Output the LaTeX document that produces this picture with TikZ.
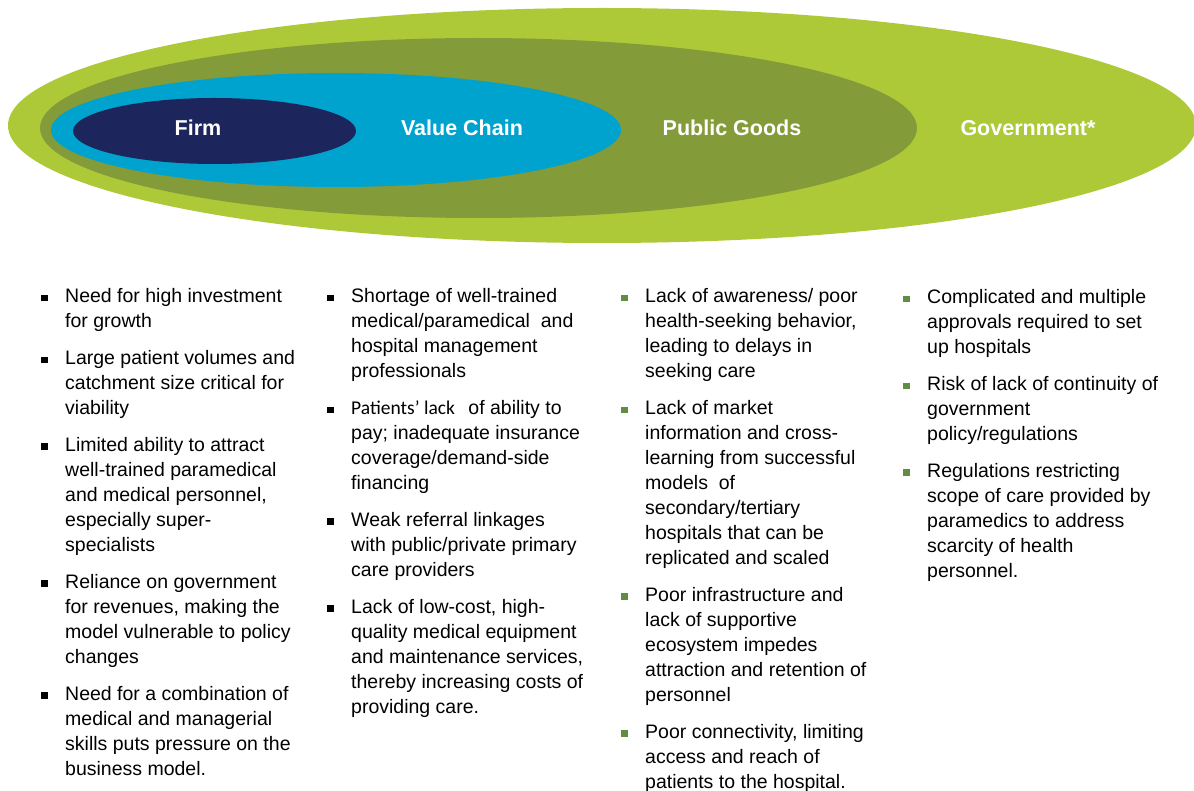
\documentclass[tikz,border=0pt]{standalone}
\usepackage{fontspec}
\setmainfont{Liberation Sans}
\newfontfamily\carlito{Carlito}
\usetikzlibrary{positioning}

\definecolor{govlime}{RGB}{174,201,56}
\definecolor{pubolive}{RGB}{132,155,58}
\definecolor{chaincyan}{RGB}{0,162,206}
\definecolor{firmnavy}{RGB}{28,37,92}
\definecolor{bulgreen}{RGB}{98,140,62}

\newcommand{\sqbul}[1]{\strut\llap{\textcolor{#1}{\rule[1.8pt]{6.8pt}{6.3pt}}\hspace{17.5pt}}}

\tikzset{
  ringlabel/.style={text=white, inner sep=0pt, anchor=base,
    font=\fontsize{21.5}{26}\selectfont\bfseries},
  itembox/.style={align=left, anchor=north west, inner sep=0pt,
    font=\fontsize{19.5}{25}\selectfont,
    execute at end node={\strut}},
  nextitem/.style={below=11.5pt of #1.south west, anchor=north west}
}

\begin{document}
\begin{tikzpicture}[x=1pt,y=-1pt]
\useasboundingbox (0,0) rectangle (1194,791);

% Rings
\fill[govlime] (602,125.5) ellipse [x radius=594pt, y radius=117.5pt];
\fill[pubolive] (478.5,128) ellipse [x radius=438.5pt, y radius=90pt];
\fill[chaincyan] (336,130) ellipse [x radius=285pt, y radius=57pt];
\fill[firmnavy] (214.5,131) ellipse [x radius=141.5pt, y radius=33pt];

% Ring labels
\node[ringlabel] (firm) at (198,135.5) {Firm};
\node[ringlabel] (chain) at (462,135.5) {Value Chain};
\node[ringlabel] (pubgoods) at (732,135.5) {Public Goods};
\node[ringlabel] (gov) at (1028,135.5) {Government*};

% Firm column
\node[itembox] (f1) at (65,285) {\sqbul{black}Need for high investment\\for growth};
\node[itembox, nextitem=f1] (f2) {\sqbul{black}Large patient volumes and\\catchment size critical for\\viability};
\node[itembox, nextitem=f2] (f3) {\sqbul{black}Limited ability to attract\\well-trained paramedical\\and medical personnel,\\especially super-\\specialists};
\node[itembox, nextitem=f3] (f4) {\sqbul{black}Reliance on government\\for revenues, making the\\model vulnerable to policy\\changes};
\node[itembox, nextitem=f4] (f5) {\sqbul{black}Need for a combination of\\medical and managerial\\skills puts pressure on the\\business model.};

% Value chain column
\node[itembox] (v1) at (351,285) {\sqbul{black}Shortage of well-trained\\medical/paramedical\ \ and\\hospital management\\professionals};
\node[itembox, nextitem=v1] (v2) {\sqbul{black}{\carlito Patients’ lack}\hspace{8pt} of ability to\\pay; inadequate insurance\\coverage/demand-side\\financing};
\node[itembox, nextitem=v2] (v3) {\sqbul{black}Weak referral linkages\\with public/private primary\\care providers};
\node[itembox, nextitem=v3] (v4) {\sqbul{black}Lack of low-cost, high-\\quality medical equipment\\and maintenance services,\\thereby increasing costs of\\providing care.};

% Public goods column
\node[itembox] (p1) at (645,285) {\sqbul{bulgreen}Lack of awareness/ poor\\health-seeking behavior,\\leading to delays in\\seeking care};
\node[itembox, nextitem=p1] (p2) {\sqbul{bulgreen}Lack of market\\information and cross-\\learning from successful\\models\ \ of\\secondary/tertiary\\hospitals that can be\\replicated and scaled};
\node[itembox, nextitem=p2] (p3) {\sqbul{bulgreen}Poor infrastructure and\\lack of supportive\\ecosystem impedes\\attraction and retention of\\personnel};
\node[itembox, nextitem=p3] (p4) {\sqbul{bulgreen}Poor connectivity, limiting\\access and reach of\\patients to the hospital.};

% Government column
\node[itembox] (g1) at (927,286) {\sqbul{bulgreen}Complicated and multiple\\approvals required to set\\up hospitals};
\node[itembox, nextitem=g1] (g2) {\sqbul{bulgreen}Risk of lack of continuity of\\government\\policy/regulations};
\node[itembox, nextitem=g2] (g3) {\sqbul{bulgreen}Regulations restricting\\scope of care provided by\\paramedics to address\\scarcity of health\\personnel.};

\end{tikzpicture}
\end{document}
